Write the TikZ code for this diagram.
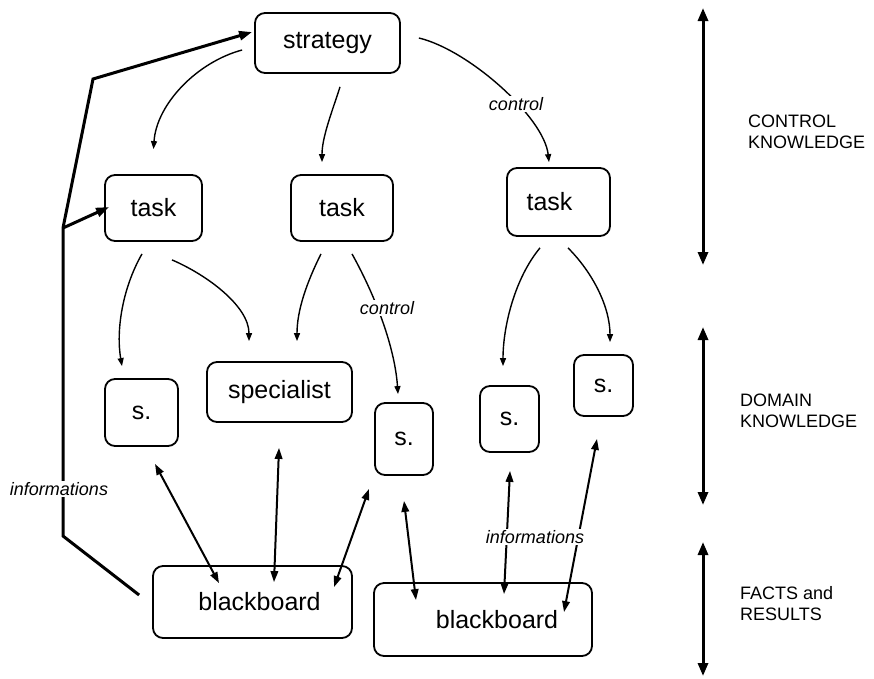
\documentclass[tikz,border=0pt]{standalone}
\usepackage{fontspec}
\setmainfont{Liberation Sans}
\usetikzlibrary{arrows.meta}
\begin{document}
\begin{tikzpicture}[x=1pt,y=-1pt,
  box/.style={draw, rounded corners=10pt, line width=1.8pt, inner sep=0pt, font=\fontsize{25}{29}\selectfont},
  ctl/.style={line width=1.4pt, -{Triangle[length=8pt,width=6pt]}},
  bidir/.style={line width=2pt, {Triangle[length=11pt,width=7.5pt]}-{Triangle[length=11pt,width=7.5pt]}},
  heavy/.style={line width=3pt, -{Triangle[length=13pt,width=9pt]}},
  side/.style={line width=3pt, {Triangle[length=13pt,width=10pt]}-{Triangle[length=13pt,width=10pt]}},
  lbl/.style={fill=white, inner sep=1pt, font=\fontsize{18}{21}\selectfont\itshape},
  sidetext/.style={anchor=west, align=left, font=\fontsize{18}{21}\selectfont, inner sep=0pt}]
\useasboundingbox (0,0) rectangle (874,678);

% boxes
\node[box, minimum width=145pt, minimum height=60pt] (strategy) at (327.5,43) {strategy};
\node[box, minimum width=97pt, minimum height=66pt] (task1) at (153.5,208) {task};
\node[box, minimum width=102pt, minimum height=66pt] (task2) at (342,208) {task};
\node[box, minimum width=103pt, minimum height=68pt] (task3) at (558.5,202) {task\hspace*{18pt}};
\node[box, minimum width=73pt, minimum height=67pt] (s1) at (141.5,412.5) {s.};
\node[box, minimum width=145pt, minimum height=60pt] (spec) at (279.5,392) {specialist};
\node[box, minimum width=58pt, minimum height=72pt] (s3) at (404,439) {s.};
\node[box, minimum width=59pt, minimum height=66pt] (s4) at (509.5,419) {s.};
\node[box, minimum width=59pt, minimum height=61pt] (s5) at (603.5,385.5) {s.};
\node[box, minimum width=199pt, minimum height=72pt] (bb1) at (252.5,602) {\hspace*{14pt}blackboard};
\node[box, minimum width=218pt, minimum height=73pt] (bb2) at (483,619.5) {\hspace*{28pt}blackboard};

% control arrows
\draw[ctl] ([shift={(-12,7)}]strategy.west) .. controls +(-45,12) and +(3,-45) .. ([shift={(0,-25)}]task1.north);
\draw[ctl] ([shift={(12.5,13)}]strategy.south) .. controls +(-8,25) and +(0,-25) .. ([shift={(-20,-12)}]task2.north);
\draw[ctl] ([shift={(18,-5)}]strategy.east) .. controls +(50,12) and +(-5,-45) .. ([shift={(-9.5,-5)}]task3.north);
\node[lbl] (c1) at (516,104) {control};

\draw[ctl] ([shift={(-11.5,12)}]task1.south) .. controls +(-20,35) and +(-6,-35) .. ([shift={(-19.5,-12)}]s1.north);
\draw[ctl] ([shift={(18.5,18)}]task1.south) .. controls +(35,15) and +(0,-35) .. ([shift={(-30.5,-20)}]spec.north);
\draw[ctl] ([shift={(-21,12)}]task2.south) .. controls +(-15,30) and +(0,-30) .. ([shift={(17.5,-20)}]spec.north);
\draw[ctl] ([shift={(10,12)}]task2.south) .. controls +(25,45) and +(-3,-45) .. ([shift={(-6,-8)}]s3.north);
\node[lbl] (c2) at (387,308) {control};
\draw[ctl] ([shift={(-18.5,11)}]task3.south) .. controls +(-25,30) and +(0,-40) .. ([shift={(-6.5,-19)}]s4.north);
\draw[ctl] ([shift={(9.5,11)}]task3.south) .. controls +(25,25) and +(0,-35) .. ([shift={(6.5,-12)}]s5.north);

% information arrows
\draw[bidir] ([shift={(13.5,17)}]s1.south) -- ([shift={(-33.5,18)}]bb1.north);
\draw[bidir] ([shift={(-0.5,25)}]spec.south) -- ([shift={(21.5,17)}]bb1.north);
\draw[bidir] ([shift={(-35,13)}]s3.south) -- ([shift={(81.5,22)}]bb1.north);
\draw[bidir] ([shift={(0,25)}]s3.south) -- ([shift={(-67,18)}]bb2.north);
\draw[bidir] ([shift={(0.5,18)}]s4.south) -- ([shift={(21,12)}]bb2.north);
\draw[bidir] ([shift={(-6.5,22)}]s5.south) -- ([shift={(81,30)}]bb2.north);
\node[lbl] (i2) at (535,537) {informations};

% feedback line
\coordinate (p1) at (63,536);
\coordinate (j) at (63,228);
\coordinate (p2) at (93,79);
\draw[heavy] ([shift={(-13,-7)}]bb1.west) -- (p1) -- (j) -- (p2) -- ([shift={(-2,-11)}]strategy.west);
\draw[heavy] (j) -- ([shift={(5,-1)}]task1.west);
\node[lbl] (i1) at (59,489) {informations};

% side scale
\coordinate (r1a) at (703,8);
\coordinate (r1b) at (703,265);
\coordinate (r2a) at (703,327);
\coordinate (r2b) at (703,505);
\coordinate (r3a) at (703,542);
\coordinate (r3b) at (703,676);
\draw[side] (r1a) -- (r1b);
\draw[side] (r2a) -- (r2b);
\draw[side] (r3a) -- (r3b);
\node[sidetext] (t1) at (748,131.5) {CONTROL\\KNOWLEDGE};
\node[sidetext] (t2) at (740,410.5) {DOMAIN\\KNOWLEDGE};
\node[sidetext] (t3) at (740,603.5) {FACTS and\\RESULTS};
\end{tikzpicture}
\end{document}
